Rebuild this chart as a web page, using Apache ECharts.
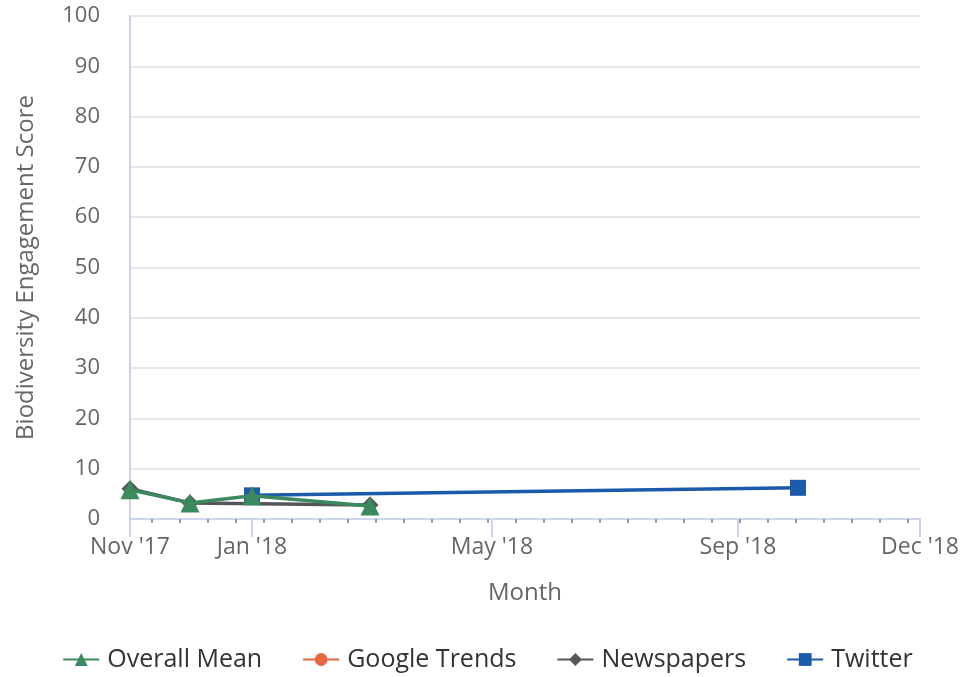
<!DOCTYPE html>
<html>
<head>
<meta charset="utf-8">
<script src="https://cdn.jsdelivr.net/npm/echarts@6/dist/echarts.min.js"></script>
<style>
  html, body { margin: 0; padding: 0; background: #fff; }
  #chart { width: 975px; height: 677px; }
</style>
</head>
<body>
<div id="chart"></div>
<script>
// data
const overallMean = [['2017-11-01', 5.8], ['2017-12-01', 3.2], ['2018-01-01', 4.6], ['2018-03-01', 2.6]];
const googleTrends = [];
const newspapers = [['2017-11-01', 6.0], ['2017-12-01', 3.2], ['2018-03-01', 2.8]];
const twitter = [['2018-01-01', 4.7], ['2018-10-01', 6.2]];

const majorTicks = ['2017-11-01', '2018-01-01', '2018-05-01', '2018-09-01', '2018-12-01'];
const monthNames = ['Jan', 'Feb', 'Mar', 'Apr', 'May', 'Jun', 'Jul', 'Aug', 'Sep', 'Oct', 'Nov', 'Dec'];

// 'YYYY-MM-DD' -> ms (local time)
const toMs = (s) => {
  const p = s.split('-').map(Number);
  return new Date(p[0], p[1] - 1, p[2]).getTime();
};
const toPoints = (arr) => arr.map(d => [toMs(d[0]), d[1]]);

const xMin = toMs('2017-11-01');
const xMax = toMs('2018-12-01');
const majorMs = majorTicks.map(toMs);

// small ticks every two weeks (sundays)
const minorTicks = [];
for (let t = new Date(2017, 10, 12); t.getTime() <= xMax; t.setDate(t.getDate() + 14)) {
  minorTicks.push(t.getTime());
}

const chartDom = document.getElementById('chart');
const myChart = echarts.init(chartDom);

const font = 'Open Sans';

const option = {
  animation: false,
  textStyle: { fontFamily: font },
  grid: { left: 130, right: 55, top: 16, bottom: 158 },
  legend: {
    bottom: 0,
    left: 'center',
    itemWidth: 36,
    itemHeight: 16,
    itemGap: 40,
    textStyle: { fontSize: 25, color: '#333', fontFamily: font, padding: [0, 0, 0, 3] },
    data: ['Overall Mean', 'Google Trends', 'Newspapers', 'Twitter']
  },
  xAxis: [
    {
      type: 'value',
      min: xMin,
      max: xMax,
      name: 'Month',
      nameLocation: 'middle',
      nameGap: 62,
      nameTextStyle: { fontSize: 24, color: '#666' },
      axisLine: { lineStyle: { color: '#ccd6eb', width: 2 } },
      axisTick: {
        show: true,
        length: 18,
        customValues: majorMs,
        lineStyle: { color: '#ccd6eb', width: 2 }
      },
      axisLabel: {
        customValues: majorMs,
        fontSize: 23,
        color: '#666',
        margin: 17,
        showMinLabel: true,
        showMaxLabel: true,
        formatter: (v) => {
          const d = new Date(v);
          return monthNames[d.getMonth()] + " '" + String(d.getFullYear()).slice(2);
        }
      },
      splitLine: { show: false }
    },
    {
      type: 'value',
      min: xMin,
      max: xMax,
      position: 'bottom',
      axisLine: { show: false },
      axisTick: {
        show: true,
        length: 4,
        customValues: minorTicks,
        lineStyle: { color: '#999', width: 2 }
      },
      axisLabel: { show: false },
      splitLine: { show: false }
    }
  ],
  yAxis: {
    type: 'value',
    min: 0,
    max: 100,
    interval: 10,
    name: 'Biodiversity Engagement Score',
    nameLocation: 'middle',
    nameGap: 92,
    nameTextStyle: { fontSize: 24, color: '#666' },
    axisLine: { show: true, lineStyle: { color: '#ccd6eb', width: 2 } },
    axisTick: { show: false },
    axisLabel: { fontSize: 22, color: '#666', margin: 30 },
    splitLine: { lineStyle: { color: '#e6e6e6', width: 2 } }
  },
  series: [
    {
      name: 'Overall Mean',
      type: 'line',
      data: toPoints(overallMean),
      symbol: 'triangle',
      symbolSize: 19,
      z: 5,
      itemStyle: { color: '#3b8a5e' },
      lineStyle: { width: 3.5 }
    },
    {
      name: 'Google Trends',
      type: 'line',
      data: toPoints(googleTrends),
      symbol: 'circle',
      symbolSize: 15,
      itemStyle: { color: '#e8663f' },
      lineStyle: { width: 3.5 }
    },
    {
      name: 'Newspapers',
      type: 'line',
      data: toPoints(newspapers),
      symbol: 'diamond',
      symbolSize: 17,
      z: 3,
      itemStyle: { color: '#55565b' },
      lineStyle: { width: 3.5 }
    },
    {
      name: 'Twitter',
      type: 'line',
      data: toPoints(twitter),
      symbol: 'rect',
      symbolSize: 16,
      z: 4,
      itemStyle: { color: '#1c5aab' },
      lineStyle: { width: 3.5 }
    }
  ]
};

myChart.setOption(option);
</script>
</body>
</html>
